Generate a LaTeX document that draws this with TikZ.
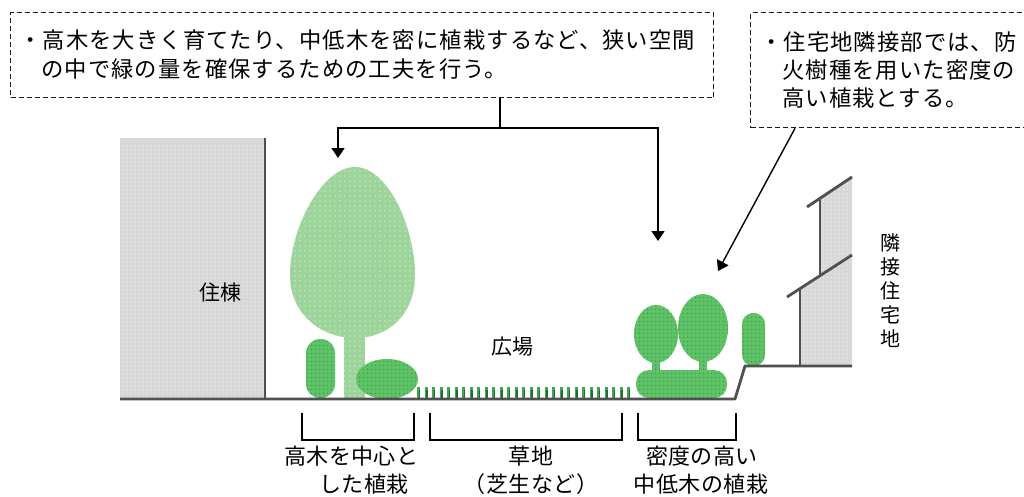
\documentclass[tikz,border=0pt]{standalone}
\usepackage{fontspec}
\setmainfont{Noto Sans CJK JP}
\usetikzlibrary{arrows.meta,patterns.meta}

\definecolor{wallgray}{HTML}{D8D8D8}
\definecolor{walldot}{HTML}{EEEEEE}
\definecolor{edgegray}{HTML}{505050}
\definecolor{crownpale}{HTML}{9ED39E}
\definecolor{crowndot}{HTML}{B9F5A6}
\definecolor{shrubgreen}{HTML}{5EC266}
\definecolor{shrubdot}{HTML}{3E8F4E}
\definecolor{grassgreen}{HTML}{3DA850}
\definecolor{grassdark}{HTML}{1F6B33}

\tikzset{
  notebox/.style={draw=black!90, line width=1.3pt, dash pattern=on 5pt off 3pt,
                  anchor=north west, inner sep=0pt},
  notetext/.style={anchor=west, inner sep=0pt,
                   font=\fontsize{22.3}{26}\selectfont\addfontfeature{LetterSpace=5}},
  label/.style={inner sep=0pt, font=\fontsize{21}{24}\selectfont},
  caption/.style={inner sep=0pt, font=\fontsize{22}{24}\selectfont\addfontfeature{LetterSpace=2}},
  pointer/.style={draw=black, line width=1.4pt, -{Triangle[width=13pt,length=10pt]}},
  bracket/.style={draw=black, line width=1.3pt},
  wall/.style={fill=wallgray, postaction={pattern={Dots[distance=4pt,radius=0.7pt]}, pattern color=walldot}},
  wallline/.style={draw=edgegray, line width=2.8pt},
  crown/.style={fill=crownpale, postaction={pattern={Dots[distance=5pt,radius=0.9pt]}, pattern color=crowndot}},
  shrub/.style={fill=shrubgreen, postaction={pattern={Dots[distance=4pt,radius=0.8pt]}, pattern color=shrubdot}},
}

\begin{document}
\begin{tikzpicture}[x=1pt,y=-1pt]
\useasboundingbox (0,0) rectangle (1024,496);

% residential block on the left
\fill[wall] (120,138) rectangle (265,400);
\draw[wallline] (265,138) -- (265,400);
\node[label] (block) at (220,292) {住棟};

% neighbouring house on the right
\fill[wall] (800,366) -- (800,288.6) -- (820,275.7) -- (820,198.3) -- (852,177) -- (852,366) -- cycle;
\draw[wallline] (800,366) -- (800,288.6);
\draw[wallline] (820,275.7) -- (820,200);
\draw[wallline] (787,297) -- (852,255);
\draw[wallline] (807,207) -- (852,177);
\node[label, align=center, font=\fontsize{20}{24}\selectfont] (neighbour) at (890,291)
  {隣\\接\\住\\宅\\地};

% lawn strip
\foreach \gx in {417,424.5,...,630} {
  \fill[grassgreen] (\gx,387) rectangle ++(3.2,11);
  \fill[grassdark] (\gx+1.6,390) rectangle ++(1.6,8);
}

% tall tree with its understorey
\fill[crown] (344,320) rectangle (365,398);
\fill[crown] (355,167) .. controls (388,167) and (415,228) .. (415,275)
  .. controls (415,315) and (388,338) .. (355,338)
  .. controls (322,338) and (290,315) .. (290,275)
  .. controls (290,228) and (322,167) .. (355,167) -- cycle;
\fill[shrub, rounded corners=14pt] (306,339) rectangle (335,398);
\fill[shrub] (387,379) ellipse [x radius=31, y radius=20];

% dense planting near the neighbouring lot
\fill[shrub] (652,358) rectangle (660,372);
\fill[shrub] (699,358) rectangle (707,372);
\fill[shrub] (656,334) ellipse [x radius=22, y radius=29];
\fill[shrub] (703,328) ellipse [x radius=25, y radius=34];
\fill[shrub, rounded corners=13pt] (636,370) rectangle (727,398);
\fill[shrub, rounded corners=11pt] (742,313) rectangle (765,366);

% ground line
\draw[wallline, line join=round] (120,399) -- (735,399) -- (745,366) -- (852,366);

\node[label] (plaza) at (512,347) {広場};

% notes and their pointers
\node[notebox, minimum width=703pt, minimum height=85pt] (noteA) at (10,12) {};
\node[notetext] (noteAa) at (19,40) {・高木を大きく育てたり、中低木を密に植栽するなど、狭い空間};
\node[notetext] (noteAb) at (41,69) {の中で緑の量を確保するための工夫を行う。};

\node[notebox, minimum width=290pt, minimum height=115pt] (noteB) at (750,12) {};
\node[notetext] (noteBa) at (760,42) {・住宅地隣接部では、防};
\node[notetext] (noteBb) at (782,70) {火樹種を用いた密度の};
\node[notetext] (noteBc) at (782,98) {高い植栽とする。};

\coordinate (split) at (500,128);
\coordinate (tipA) at (338,158);
\coordinate (tipB) at (658,241);
\coordinate (tipC) at (718,271);
\draw[line width=1.4pt] (noteA.south -| split) -- (split);
\draw[pointer] (split) -| (tipA);
\draw[pointer] (split) -| (tipB);
\draw[pointer] ([xshift=45pt]noteB.south west) -- (tipC);

% zone brackets and captions
\draw[bracket] (302,413) -- (302,440) -- (414,440) -- (414,413);
\draw[bracket] (430,413) -- (430,440) -- (622,440) -- (622,413);
\draw[bracket] (638,413) -- (638,440) -- (736,440) -- (736,413);

\node[caption, anchor=west] (capA1) at (284,456) {高木を中心と};
\node[caption, anchor=west] (capA2) at (319,484) {した植栽};
\node[caption] (capB1) at (531,456) {草地};
\node[caption] (capB2) at (531,484) {（芝生など）};
\node[caption] (capC1) at (702,456) {密度の高い};
\node[caption] (capC2) at (701,484) {中低木の植栽};
\end{tikzpicture}
\end{document}
